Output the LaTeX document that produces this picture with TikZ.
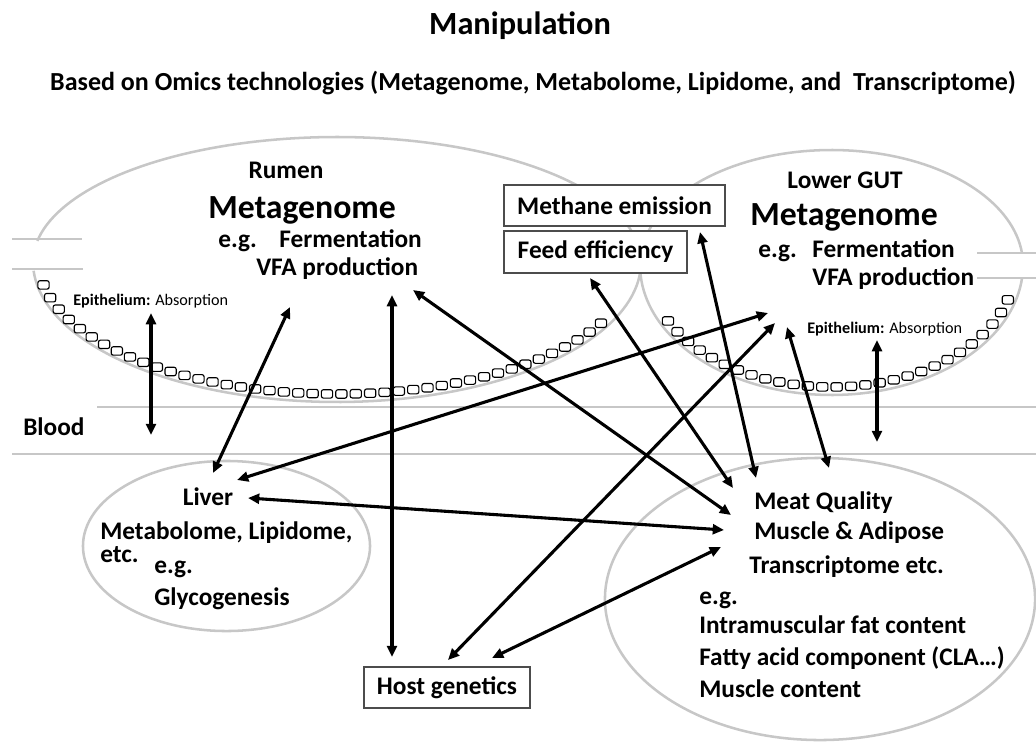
\documentclass[tikz,border=0pt]{standalone}
\usepackage{fontspec}
\setmainfont{Carlito}
\usetikzlibrary{arrows.meta}
\usetikzlibrary{decorations.markings}

\begin{document}
\begin{tikzpicture}[x=0.025cm, y=-0.025cm,
        organ/.style={draw=black!22, line width=1.8pt},
        infobox/.style={draw=black!70, line width=0.9pt, fill=white, inner sep=0pt, font=\fontsize{18}{21}\selectfont\bfseries},
        txt/.style={inner sep=0pt, font=\fontsize{18}{21}\selectfont\bfseries},
        bigtxt/.style={inner sep=0pt, font=\fontsize{24}{28}\selectfont\bfseries},
        epi/.style={inner sep=0pt, font=\fontsize{11.5}{13}\selectfont},
        epicell/.style={draw, line width=0.8pt, fill=white, rounded corners=1.5pt, minimum width=8pt, minimum height=6pt, inner sep=0pt},
        dbl/.style={<->, >={Triangle[length=8pt,width=7pt]}, line width=2.2pt}]
    \useasboundingbox (0,0) rectangle (1036,742);

    % gut compartments, blood, organs
    \draw[organ] plot[domain=-170.3:0, samples=90] ({337+304*cos(\x)},{262+125*sin(\x)})
        -- plot[domain=0:176.4, samples=90] ({337+304*cos(\x)},{262+140*sin(\x)});
    \draw[organ] (12,239) -- (82,239);
    \draw[organ] (12,269) -- (83,269);
    \draw[organ] plot[domain=5.7:180, samples=80] ({831.5+191.5*cos(\x)},{265+130*sin(\x)})
        -- plot[domain=-180:-6, samples=80] ({831.5+191.5*cos(\x)},{265+115*sin(\x)});
    \draw[organ] (977,253) -- (1036,253);
    \draw[organ] (977,278) -- (1036,278);
    \draw[organ] (97,407) -- (1036,407);
    \draw[organ] (12,454) -- (1036,454);
    \draw[organ] (226.5,546) ellipse [x radius=3.5875cm, y radius=2.125cm];
    \draw[organ] (820,599) ellipse [x radius=5.375cm, y radius=3.525cm];

    % epithelium cells
    \path[decorate, decoration={markings, mark=between positions 0 and 1 step 0.36cm with
        {\node[epicell] (rc\pgfkeysvalueof{/pgf/decoration/mark info/sequence number}) {};}}]
        plot[domain=170:27, samples=90] ({337+298*cos(\x)},{262+132*sin(\x)});
    \path[decorate, decoration={markings, mark=between positions 0 and 1 step 0.36cm with
        {\node[epicell] (gc\pgfkeysvalueof{/pgf/decoration/mark info/sequence number}) {};}}]
        plot[domain=152.7:14, samples=80] ({831.5+184*cos(\x)},{265+122*sin(\x)});

    % titles
    \node[txt, anchor=base, font=\fontsize{23}{27}\selectfont\bfseries] (title) at (520,35) {Manipulation};
    \node[txt, anchor=base, font=\fontsize{18.5}{22}\selectfont\bfseries] (omics) at (533,91)
        {Based on Omics technologies (Metagenome, Metabolome, Lipidome, and\ \ Transcriptome)};

    % rumen
    \node[txt, anchor=base] (rumen) at (286,178) {Rumen};
    \node[bigtxt, anchor=base west] (rumenmeta) at (208,218) {Metagenome};
    \node[txt, anchor=base west] (rumeneg) at (218,247) {e.g.\hspace{16pt}Fermentation};
    \node[txt, anchor=base west] (rumenvfa) at (256,275) {VFA production};
    \node[epi, anchor=base west] (rumenepi) at (73,305) {\bfseries Epithelium: \mdseries Absorption};
    \node[txt, anchor=base west] (blood) at (23,435) {Blood};

    % lower gut
    \node[txt, anchor=base] (gut) at (845,188) {Lower GUT};
    \node[bigtxt, anchor=base west] (gutmeta) at (750,225) {Metagenome};
    \node[txt, anchor=base west] (guteg) at (758,257) {e.g.\hspace{11pt}Fermentation};
    \node[txt, anchor=base west] (gutvfa) at (812,285) {VFA production};
    \node[epi, anchor=base west] (gutepi) at (807,333) {\bfseries Epithelium: \mdseries Absorption};

    % boxes
    \node[infobox, minimum width=5.525cm, minimum height=1.025cm] (methane) at (614.5,205.5) {Methane emission};
    \node[infobox, minimum width=4.575cm, minimum height=1.05cm] (feed) at (595.5,252) {Feed efficiency};
    \node[infobox, minimum width=4.15cm, minimum height=1.025cm] (host) at (447,687.5) {Host genetics};

    % liver
    \node[txt, anchor=base] (liver) at (208,505) {Liver};
    \node[txt, anchor=base west] (livomics) at (100,539) {Metabolome, Lipidome,};
    \node[txt, anchor=base west] (livetc) at (100,562) {etc.};
    \node[txt, anchor=base west] (liveg) at (154,573) {e.g.};
    \node[txt, anchor=base west] (livglyco) at (154,605) {Glycogenesis};

    % meat
    \node[txt, anchor=base west] (meat) at (754,509) {Meat Quality};
    \node[txt, anchor=base west] (muscle) at (754,539) {Muscle \& Adipose};
    \node[txt, anchor=base west] (transcr) at (749,573) {Transcriptome etc.};
    \node[txt, anchor=base west] (meateg) at (699,604) {e.g.};
    \node[txt, anchor=base west] (imf) at (699,633) {Intramuscular fat content};
    \node[txt, anchor=base west] (fatty) at (699,665) {Fatty acid component (CLA…)};
    \node[txt, anchor=base west] (mcontent) at (699,697) {Muscle content};

    % arrow ends
    \coordinate (rumepiT) at (151,313);
    \coordinate (rumepiB) at (151,435);
    \coordinate (gutepiT) at (877,340);
    \coordinate (gutepiB) at (877,442);
    \coordinate (liv1) at (213,473);
    \coordinate (liv2) at (237,480);
    \coordinate (liv3) at (248,498);
    \coordinate (rum1) at (290,307);
    \coordinate (rum2) at (392,295);
    \coordinate (rum3) at (413,290);
    \coordinate (gut1) at (768,313);
    \coordinate (gut2) at (775,323);
    \coordinate (gut3) at (787,327);
    \coordinate (host1) at (392,657);
    \coordinate (host2) at (448,660);
    \coordinate (host3) at (492,658);
    \coordinate (feedT) at (590,278);
    \coordinate (methT) at (700,232);
    \coordinate (meat1) at (733,488);
    \coordinate (meat2) at (756,478);
    \coordinate (meat3) at (829,468);
    \coordinate (meat4) at (731,515);
    \coordinate (meat5) at (724,530);
    \coordinate (meat6) at (721,547);

    \draw[dbl] (rumepiT) -- (rumepiB);
    \draw[dbl] (gutepiT) -- (gutepiB);
    \draw[dbl] (liv1) -- (rum1);
    \draw[dbl] (host1) -- (rum2);
    \draw[dbl] (rum3) -- (meat4);
    \draw[dbl] (feedT) -- (meat1);
    \draw[dbl] (methT) -- (meat2);
    \draw[dbl] (gut3) -- (meat3);
    \draw[dbl] (liv2) -- (gut1);
    \draw[dbl] (host2) -- (gut2);
    \draw[dbl] (liv3) -- (meat5);
    \draw[dbl] (host3) -- (meat6);
\end{tikzpicture}
\end{document}
